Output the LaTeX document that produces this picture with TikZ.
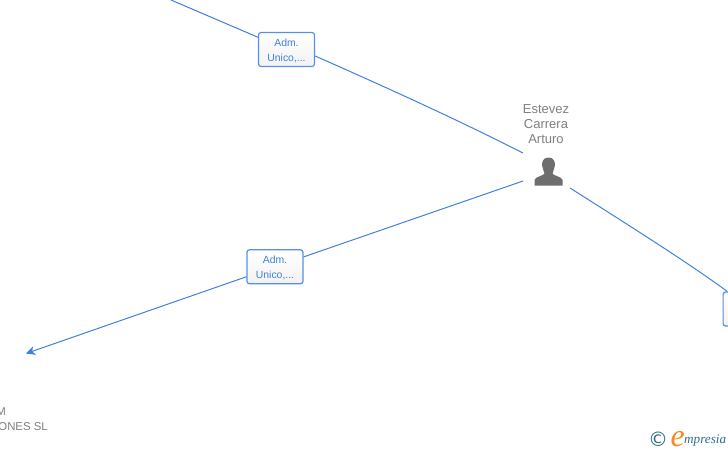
\documentclass[tikz,border=0pt]{standalone}
\usepackage{fontspec}
\usetikzlibrary{arrows.meta}
\setmainfont{Liberation Sans}
\newfontfamily\logofont{DejaVu Sans}
\newfontfamily\logoserif{Liberation Serif}
\definecolor{linkblue}{HTML}{3F80E0}
\definecolor{boxblue}{HTML}{5590E8}
\definecolor{labelgray}{HTML}{7F7F7F}
\definecolor{icongray}{HTML}{6E6E6E}
\definecolor{logoteal}{HTML}{2F6F8A}
\definecolor{logoorange}{HTML}{F58A1F}
\tikzset{
  x=1pt,y=-1pt,
  linkline/.style={draw=linkblue,line width=1pt},
  rolebox/.style={draw=boxblue,line width=1.2pt,rounded corners=2.5pt,top color=white,bottom color=white!95!black,
    minimum width=56pt,minimum height=34pt,inner sep=0pt,align=center,text=linkblue,font=\fontsize{10.4}{15}\selectfont},
  namelabel/.style={text=labelgray,font=\fontsize{13}{15}\selectfont,align=center,inner sep=0pt},
  cutlabel/.style={text=labelgray,font=\fontsize{11.4}{14}\selectfont,inner sep=0pt,anchor=base east},
}
\begin{document}
\begin{tikzpicture}
\useasboundingbox (0,0) rectangle (728,450);
\clip (0,0) rectangle (728,450);
\coordinate (topstart) at (171,0);
\coordinate (p1) at (523,153);
\coordinate (p2) at (523,181);
\coordinate (p3) at (570,188);
\coordinate (arrowend) at (26,353.5);
\node[rolebox] (adm1) at (286.5,49.5) {\parbox{56pt}{\centering\vspace*{2.4pt}Adm.\\Unico,...}};
\node[rolebox] (adm2) at (275,266.8) {\parbox{56pt}{\centering\vspace*{2.4pt}Adm.\\Unico,...}};
\node[rolebox,anchor=west] (adm3) at (722.5,309) {};
\draw[linkline] (topstart) -- (adm1);
\draw[linkline] (adm1.east) ++(0,6.5) coordinate (a1out) (a1out) .. controls (390,89) and (460,121) .. (p1);
\draw[linkline] (p2) -- (adm2);
\draw[linkline,-{Stealth[length=9pt,width=9pt,inset=2.5pt]}] (adm2) -- (arrowend);
\draw[linkline] (p3) .. controls (630,226) and (690,264) .. (adm3);
\node[namelabel] (name) at (546,124.3) {Estevez\\Carrera\\Arturo};
\node[inner sep=0pt,minimum size=1pt] (person) at (548.5,172) {};
\fill[icongray] (548.5,157.5) .. controls (553.5,157.5) and (555.5,161.5) .. (554.8,166)
  .. controls (554.3,169.5) and (552.8,171.5) .. (552.5,173.5)
  .. controls (552.5,175.5) and (562,176.5) .. (562.5,180)
  -- (562.5,185.5) -- (534.5,185.5) -- (534.5,180)
  .. controls (535,176.5) and (544.5,175.5) .. (544.5,173.5)
  .. controls (544.2,171.5) and (542.7,169.5) .. (542.2,166)
  .. controls (541.5,161.5) and (543.5,157.5) .. (548.5,157.5) -- cycle;
\node[cutlabel] (cut1) at (6,415) {M};
\node[cutlabel] (cut2) at (48,430) {ONES SL};
\node[inner sep=0pt,text=logoteal,font=\logofont\fontsize{20}{20}\selectfont] (copy) at (658,439) {©};
\node[inner sep=0pt,text=logoorange,font=\logoserif\itshape\fontsize{32}{32}\selectfont,anchor=base west] (logoe) at (670.5,446) {e};
\node[inner sep=0pt,text=logoteal,font=\logoserif\itshape\fontsize{13.2}{13.2}\selectfont,anchor=base west] (logotext) at (684,443) {mpresia};
\end{tikzpicture}
\end{document}
